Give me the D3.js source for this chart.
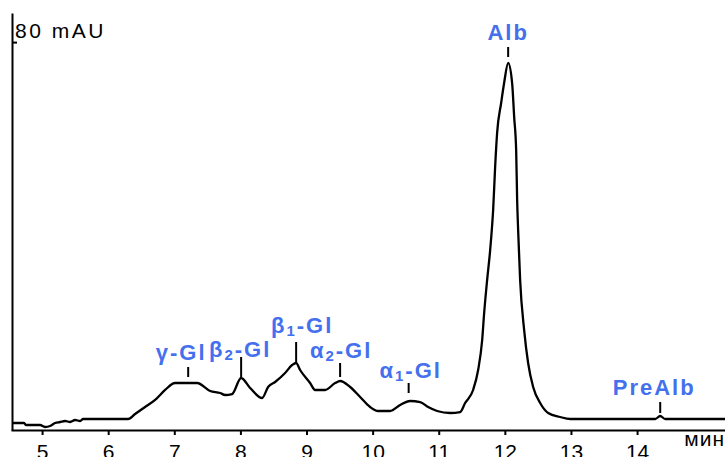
<!DOCTYPE html>
<html>
<head>
<meta charset="utf-8">
<script src="https://cdn.jsdelivr.net/npm/d3@7"></script>
<style>
  body { margin: 0; background: #fff; }
  svg { display: block; }
  text { font-family: "Liberation Sans", Arial, sans-serif; }
</style>
</head>
<body>
<svg id="chart" width="725" height="457"></svg>
<script>
// retention time, min
var times = [4.546, 4.728, 4.758, 4.909, 4.970, 5.045, 5.121, 5.197, 5.272, 5.348, 5.424, 5.499, 5.575, 5.620,
  6.301, 6.407, 6.558, 6.710, 6.861, 7.012, 7.345, 7.542, 7.693, 7.769, 7.874, 8.011, 8.147, 8.328,
  8.419, 8.525, 8.676, 8.782, 8.843, 8.903, 9.054, 9.130, 9.281, 9.433, 9.508, 9.660, 9.811, 9.962,
  10.083, 10.265, 10.416, 10.567, 10.719, 10.840, 10.976, 11.173, 11.324, 11.399, 11.520, 11.596,
  11.657, 11.687, 11.732, 11.778, 11.808, 11.823, 11.853, 11.883, 11.944, 11.989, 12.050, 12.110,
  12.141, 12.171, 12.186, 12.201, 12.231, 12.292, 12.352, 12.428, 12.534, 12.655, 12.837, 12.988,
  14.274, 14.350, 14.425, 15.333];
// absorbance, mAU
var absorb = [1.44, 1.44, 1.03, 1.03, 1.03, 0.62, 0.82, 1.44, 1.65, 1.86, 1.65, 2.06, 1.86, 2.27,
  2.27, 3.30, 4.74, 6.19, 8.25, 9.69, 9.69, 8.04, 7.63, 7.22, 7.42, 10.72, 8.66, 6.60,
  8.87, 9.90, 11.75, 13.40, 13.82, 12.37, 9.69, 8.25, 8.25, 9.69, 10.11, 8.87, 6.81, 4.74,
  3.92, 3.92, 5.16, 5.98, 5.77, 4.74, 3.92, 3.51, 3.71, 5.57, 8.25, 12.37,
  18.56, 24.13, 30.93, 37.12, 42.28, 45.37, 54.24, 61.25, 67.44, 71.56, 75.69, 71.56,
  64.55, 57.74, 47.43, 41.25, 30.93, 20.62, 13.82, 8.87, 5.57, 3.51, 2.68, 2.27,
  2.27, 2.89, 2.27, 2.27];

var xTicks = [5, 6, 7, 8, 9, 10, 11, 12, 13, 14];
var yTicks = [80];
var yUnit = "mAU";
var xUnit = "мин";

// peak names: base, subscript, rest
var peakBase = ["γ", "β", "β", "α", "α", "Alb", "PreAlb"];
var peakSub  = ["", "2", "1", "2", "1", "", ""];
var peakRest = ["-Gl", "-Gl", "-Gl", "-Gl", "-Gl", "", ""];
var peakTime = [7.21, 8.011, 8.843, 9.508, 10.545, 12.05, 14.35];
var peakHeight = [9.69, 10.72, 13.82, 10.11, 5.98, 75.69, 2.89];

// marker line length, gap above each peak, label offsets (px)
var markLen = [10, 20, 20, 14, 10, 10, 11];
var markGap = [6, 1, 1, 4, 8, 6, 3];
var labelGap = [7, 0, 9, 5, 5, 7, 7];
var labelShift = [-7, -1, 6, 1, 2, 0, -6];

var svg = d3.select("#chart");
var x = d3.scaleLinear().domain([4.53, 15.33]).range([11, 725]);
var y = d3.scaleLinear().domain([0, 86]).range([430, 13]);

// axes
var xAxis = d3.axisBottom(x).tickValues(xTicks).tickSize(5).tickSizeOuter(0).tickPadding(9);
var gx = svg.append("g").attr("transform", "translate(0,430)").call(xAxis);
gx.select(".domain").attr("stroke", "#000").attr("stroke-width", 2);
gx.selectAll(".tick line").attr("stroke", "#000").attr("stroke-width", 2);
gx.selectAll(".tick text").attr("font-size", 21).attr("fill", "#000")
  .attr("font-family", "'Liberation Sans', Arial, sans-serif");

var yAxis = d3.axisRight(y).tickValues(yTicks).tickSize(5).tickSizeOuter(0)
  .tickFormat(function(d) { return d + " " + yUnit; });
var gy = svg.append("g").attr("transform", "translate(12,0)").call(yAxis);
gy.select(".domain").attr("stroke", "#000").attr("stroke-width", 2);
gy.selectAll(".tick line").attr("stroke", "#000").attr("stroke-width", 2);
gy.selectAll(".tick text").attr("font-size", 21).attr("fill", "#000")
  .attr("font-family", "'Liberation Sans', Arial, sans-serif")
  .attr("letter-spacing", 2.5)
  .attr("x", 3).attr("dy", "-0.2em");

svg.append("text")
  .attr("x", 725).attr("y", 446)
  .attr("text-anchor", "end")
  .attr("font-size", 21)
  .attr("letter-spacing", 1)
  .text(xUnit);

// trace
var pts = times.map(function(t, i) { return [t, absorb[i]]; });
var line = d3.line()
  .x(function(d) { return x(d[0]); })
  .y(function(d) { return y(d[1]); })
  .curve(d3.curveMonotoneX);
svg.append("path")
  .datum(pts)
  .attr("d", line)
  .attr("fill", "none")
  .attr("stroke", "#000")
  .attr("stroke-width", 2.3)
  .attr("stroke-linejoin", "round");

// peak markers and labels
var blue = "#4470ee";
peakTime.forEach(function(t, i) {
  var px = x(t), py = y(peakHeight[i]);
  var y1 = py - markGap[i], y0 = y1 - markLen[i];
  svg.append("line")
    .attr("x1", px).attr("x2", px).attr("y1", y0).attr("y2", y1)
    .attr("stroke", "#000").attr("stroke-width", 2);
  var txt = svg.append("text")
    .attr("x", px + labelShift[i]).attr("y", y0 - labelGap[i])
    .attr("text-anchor", "middle")
    .attr("font-size", 22).attr("font-weight", "bold")
    .attr("letter-spacing", 2)
    .attr("fill", blue);
  txt.append("tspan").text(peakBase[i]);
  if (peakSub[i]) {
    txt.append("tspan").attr("font-size", 15).attr("dy", 3).text(peakSub[i]);
    txt.append("tspan").attr("dy", -3).text(peakRest[i]);
  } else {
    txt.append("tspan").text(peakRest[i]);
  }
});
</script>
</body>
</html>
